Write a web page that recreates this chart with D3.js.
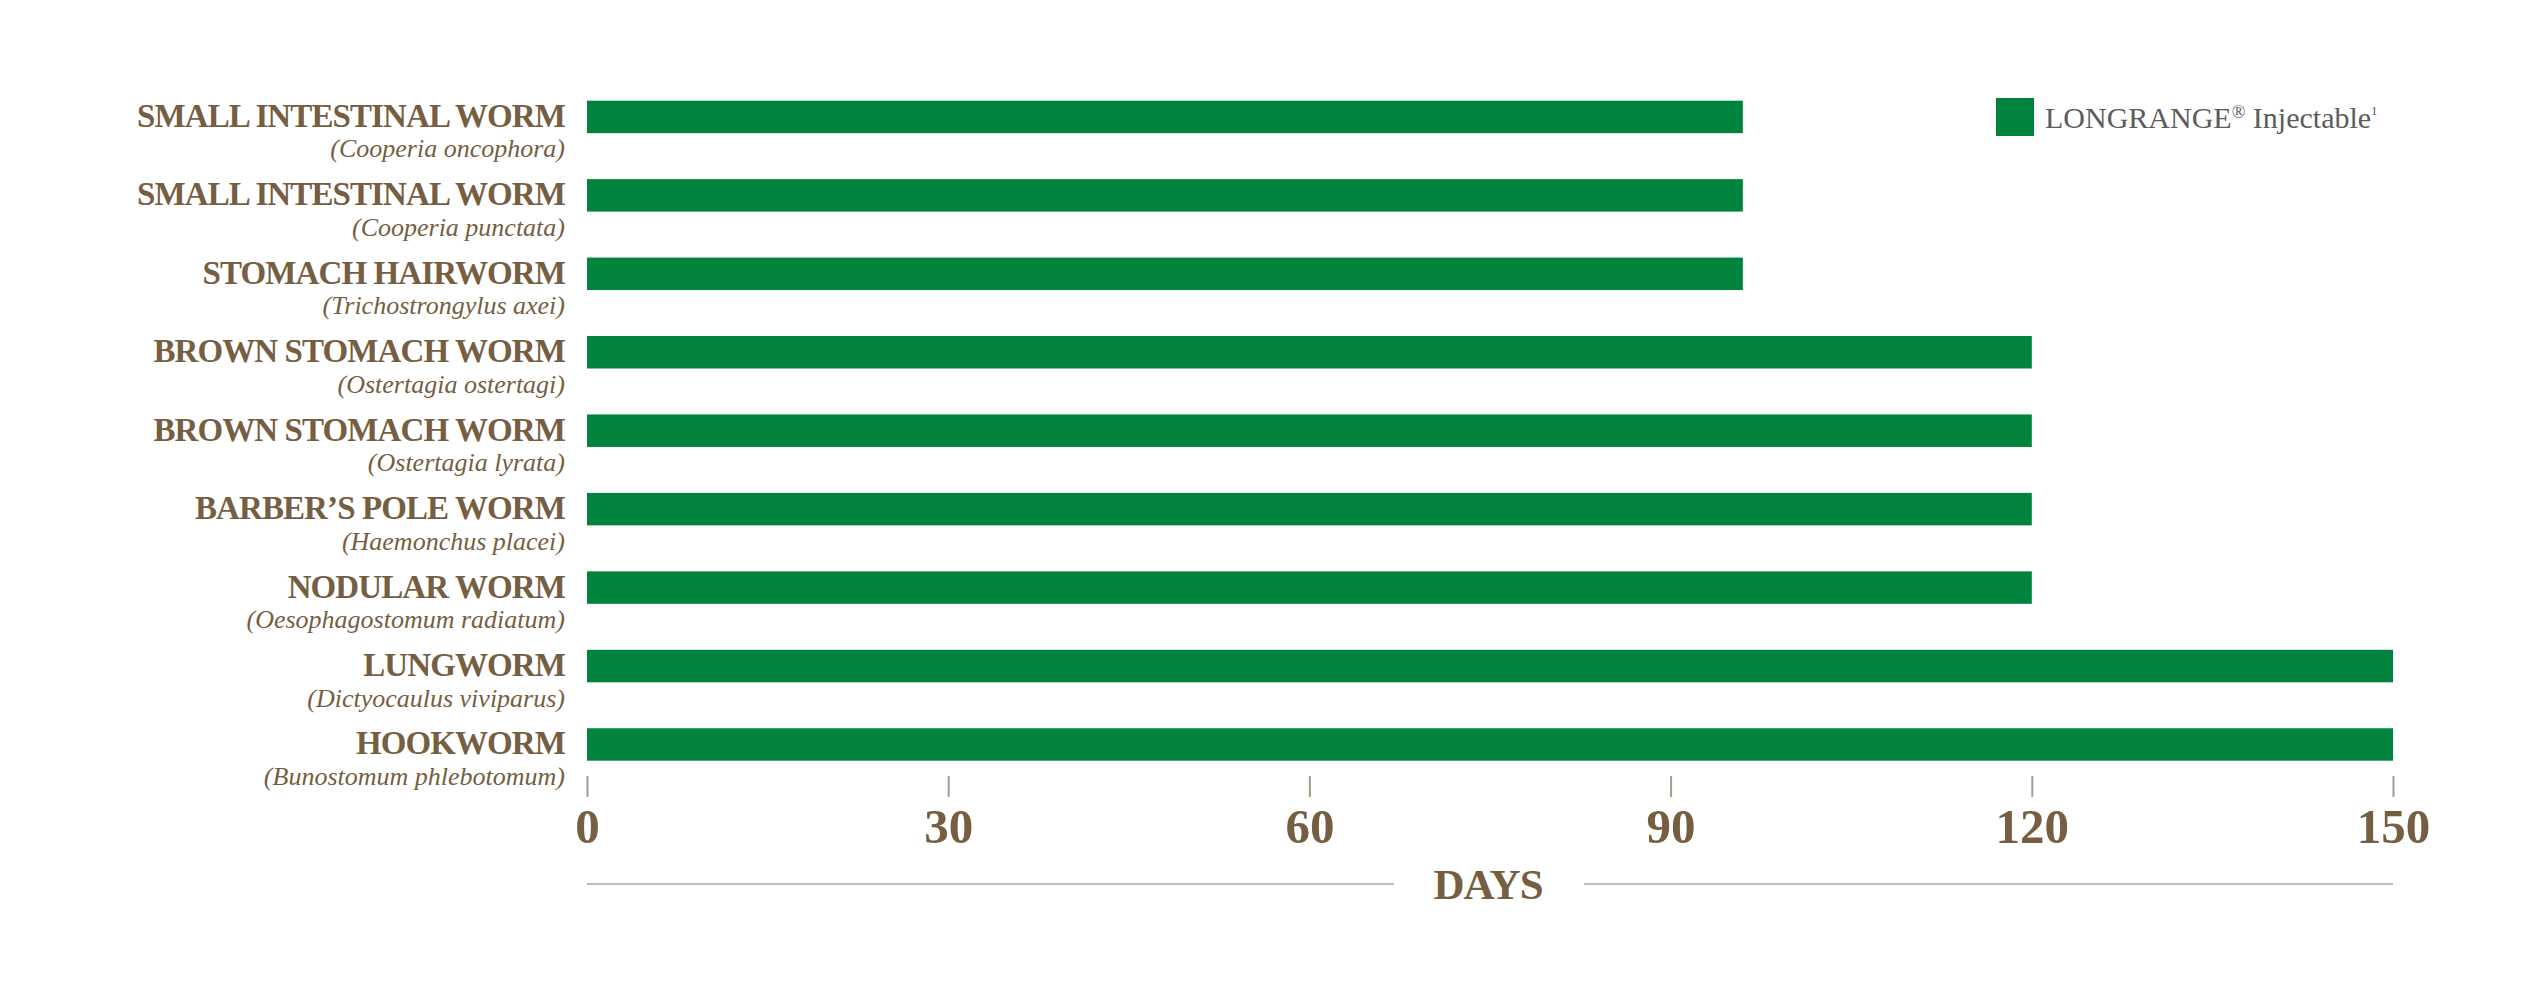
<!DOCTYPE html>
<html>
<head>
<meta charset="utf-8">
<script src="https://cdn.jsdelivr.net/npm/d3@7"></script>
<style>
  html, body { margin: 0; padding: 0; background: #ffffff; }
  svg { display: block; }
</style>
</head>
<body>
<svg id="chart" width="2544" height="982"></svg>
<script>
// ---- data ----
const commonNames = [
  "SMALL INTESTINAL WORM",
  "SMALL INTESTINAL WORM",
  "STOMACH HAIRWORM",
  "BROWN STOMACH WORM",
  "BROWN STOMACH WORM",
  "BARBER\u2019S POLE WORM",
  "NODULAR WORM",
  "LUNGWORM",
  "HOOKWORM"
];
const scientificNames = [
  "Cooperia oncophora",
  "Cooperia punctata",
  "Trichostrongylus axei",
  "Ostertagia ostertagi",
  "Ostertagia lyrata",
  "Haemonchus placei",
  "Oesophagostomum radiatum",
  "Dictyocaulus viviparus",
  "Bunostomum phlebotomum"
];
const daysValues = [96, 96, 96, 120, 120, 120, 120, 150, 150];
const tickValues = [0, 30, 60, 90, 120, 150];
const axisTitle = "DAYS";

// ---- style ----
const GREEN = "#00843d";
const BROWN = "#765e42";
const GREY_TEXT = "#5c5c5c";
const SERIF = "'Liberation Serif', 'Times New Roman', serif";

const svg = d3.select("#chart");
const rows = commonNames.map((c, i) => ({ common: c, sci: scientificNames[i], value: daysValues[i], key: i }));

const x = d3.scaleLinear().domain([0, 150]).range([587, 2393]);
const y = d3.scaleBand().domain(rows.map(d => d.key)).range([77.7, 783.7])
  .paddingInner(0.586).paddingOuter(0.293);

// bars
svg.append("g").selectAll("rect").data(rows).join("rect")
  .attr("x", x(0))
  .attr("y", d => y(d.key))
  .attr("width", d => x(d.value) - x(0))
  .attr("height", y.bandwidth())
  .attr("fill", GREEN);

// category labels (two-line text: common name + scientific name)
const lab = svg.append("g").selectAll("text").data(rows).join("text")
  .attr("transform", d => `translate(${x(0) - 22},${y(d.key) + y.bandwidth() / 2})`)
  .attr("text-anchor", "end")
  .attr("font-family", SERIF)
  .attr("fill", BROWN);
lab.append("tspan")
  .attr("x", 0).attr("y", 10)
  .attr("font-weight", "bold")
  .attr("font-size", 33)
  .attr("letter-spacing", "-0.9px")
  .text(d => d.common);
lab.append("tspan")
  .attr("x", 0).attr("y", 40.5)
  .attr("font-style", "italic")
  .attr("font-size", 26)
  .text(d => `(${d.sci})`);

// x axis
const axisG = svg.append("g")
  .attr("transform", "translate(0,776)")
  .call(d3.axisBottom(x).tickValues(tickValues).tickSize(21).tickFormat(d3.format("d")));
axisG.select(".domain").remove();
axisG.selectAll(".tick line").attr("stroke", "#a89a8a").attr("stroke-width", 2);
axisG.selectAll(".tick text")
  .attr("y", 67).attr("dy", 0)
  .attr("font-family", SERIF)
  .attr("font-weight", "bold")
  .attr("font-size", 49)
  .attr("fill", BROWN);

// axis title with split rule
const midX = (x(0) + x(150)) / 2;
const ruleY = 884;
svg.append("line").attr("x1", x(0)).attr("x2", midX - 96).attr("y1", ruleY).attr("y2", ruleY)
  .attr("stroke", "#bdbdbd").attr("stroke-width", 2);
svg.append("line").attr("x1", midX + 94).attr("x2", x(150)).attr("y1", ruleY).attr("y2", ruleY)
  .attr("stroke", "#bdbdbd").attr("stroke-width", 2);
svg.append("text")
  .attr("x", midX - 2).attr("y", 899)
  .attr("text-anchor", "middle")
  .attr("font-family", SERIF)
  .attr("font-weight", "bold")
  .attr("font-size", 43)
  .attr("letter-spacing", "-1px")
  .attr("fill", BROWN)
  .text(axisTitle);

// legend
const leg = svg.append("g").attr("transform", "translate(1996,98)");
leg.append("rect").attr("width", 38).attr("height", 38).attr("fill", GREEN);
const lt = leg.append("text")
  .attr("x", 49).attr("y", 29.7)
  .attr("font-family", SERIF)
  .attr("font-size", 30)
  .attr("fill", GREY_TEXT);
lt.append("tspan").text("LONGRANGE");
lt.append("tspan").attr("font-size", 18).attr("dy", -10).text("\u00AE");
lt.append("tspan").attr("dy", 10).text(" Injectable");
lt.append("tspan").attr("font-size", 13).attr("dy", -13).text("1");
</script>
</body>
</html>
